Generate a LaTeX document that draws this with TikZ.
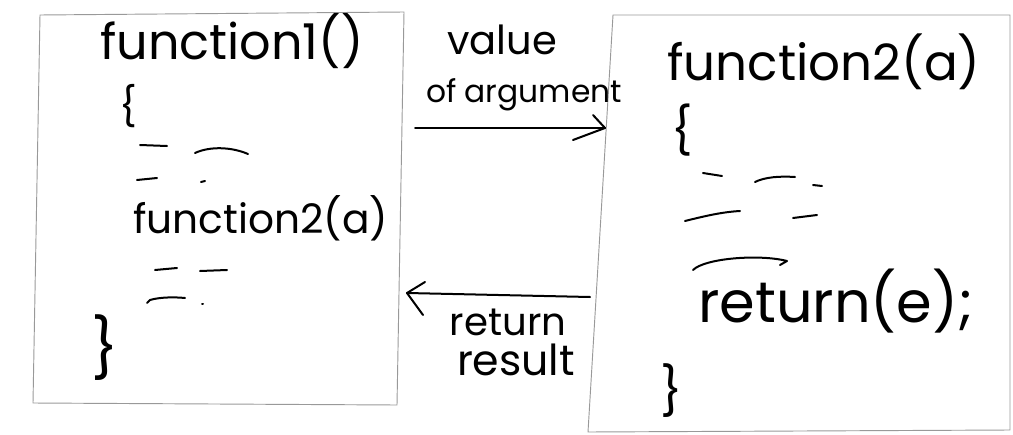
\documentclass[tikz,border=0pt]{standalone}
\usepackage{fontspec}
\setmainfont{Poppins}
\usetikzlibrary{arrows.meta}
\tikzset{
  boxline/.style={draw=black!40, line width=0.7pt},
  ink/.style={line width=1.5pt, line cap=round, line join=round, black},
  handtxt/.style={font=\fontsize{#1}{#1}\selectfont, inner sep=0pt, anchor=base west},
  handlab/.style={font=\fontsize{#1}{#1}\selectfont, inner sep=0pt, anchor=base},
  bracetxt/.style={font=\fontsize{#1}{#1}\selectfont, inner sep=0pt},
}
\begin{document}
\begin{tikzpicture}[x=0.75pt,y=-0.75pt]
\useasboundingbox (0,0) rectangle (1013,435);
% boxes
\coordinate (b1tl) at (40,15); \coordinate (b1tr) at (404,12);
\coordinate (b1br) at (397,405); \coordinate (b1bl) at (33,403);
\coordinate (b2tl) at (613,15); \coordinate (b2tr) at (1010,15);
\coordinate (b2br) at (1010,430); \coordinate (b2bl) at (588,432);
\draw[boxline] (b1tl) -- (b1tr) -- (b1br) -- (b1bl) -- cycle;
\draw[boxline] (b2tl) -- (b2tr) -- (b2br) -- (b2bl) -- cycle;
% left box content
\node[handtxt=37] (f1) at (100,60) {function1()};
\node[bracetxt=29] (ob1) at (128,106) {\{};
\draw[ink] (140,145) -- (167,146);
\draw[ink] (195,153) .. controls (210,146) and (232,147) .. (248,154);
\draw[ink] (137,180) -- (157,178);
\draw[ink] (201,182) -- (205,181);
\node[handtxt=30.5] (call) at (133,233) {function2(a)};
\draw[ink] (155,270) -- (177,268);
\draw[ink] (200,271) -- (227,270);
\draw[ink] (147,303) -- (150,300) .. controls (160,297) and (175,297) .. (185,298);
\draw[ink] (202,304) -- (203,304);
\node[bracetxt=44] (cb1) at (105,348) {\}};
% right box content
\node[handtxt=37.5] (f2) at (667,80) {function2(a)};
\node[bracetxt=35] (ob2) at (682,130) {\{};
\draw[ink] (703,173) -- (722,176);
\draw[ink] (755,182) .. controls (765,177) and (780,176) .. (795,177);
\draw[ink] (813,185) -- (822,186);
\draw[ink] (685,221) .. controls (705,216) and (722,212) .. (740,211);
\draw[ink] (793,218) -- (817,215);
\draw[ink] (693,270) .. controls (705,258) and (760,254) .. (787,261) -- (780,265);
\node[handtxt=43] (ret) at (698,322) {return(e);};
\node[bracetxt=36] (cb2) at (672,391) {\}};
% arrows
\coordinate (a1s) at (415,128); \coordinate (a1e) at (605,128);
\coordinate (a2s) at (590,297); \coordinate (a2e) at (407,293);
\draw[ink] (a1s) -- (a1e);
\draw[ink] (a1e) ++(-12,-13) -- (a1e) -- ++(-32,12);
\draw[ink] (a2s) -- (a2e);
\draw[ink] (a2e) ++(18,-11) -- (a2e) -- ++(16,22);
\node[handlab=30] (l1) at (502,55) {value};
\node[handlab=23.5] (l2) at (524,103) {of argument};
\node[handlab=29] (l3) at (508,335) {return};
\node[handlab=32] (l4) at (516,375) {result};
\end{tikzpicture}
\end{document}
